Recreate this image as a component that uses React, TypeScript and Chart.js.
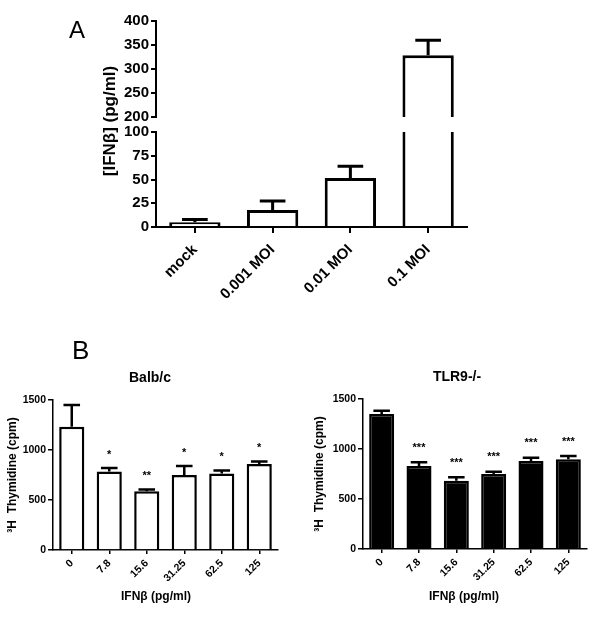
import React, { useEffect, useRef } from "react";
import { Chart, registerables } from "chart.js";

Chart.register(...registerables);

// ---------- Panel A data ----------
const moiCategories = ["mock", "0.001 MOI", "0.01 MOI", "0.1 MOI"];
const ifnValues = [5, 18, 51.5, 328.5];
const ifnErrorTops = [8, 27.5, 64, 360];
const lowTicks = [0, 25, 50, 75, 100];
const highTicks = [200, 250, 300, 350, 400];

// ---------- Panel B data ----------
const doseCategories = ["0", "7.8", "15.6", "31.25", "62.5", "125"];
const balbValues = [1233, 785, 587, 750, 765, 860];
const balbErrorTops = [1450, 820, 605, 840, 795, 885];
const balbStars = ["", "*", "**", "*", "*", "*"];
const tlr9Values = [1350, 830, 683, 750, 880, 897];
const tlr9ErrorTops = [1383, 867, 717, 773, 913, 930];
const tlr9Stars = ["", "***", "***", "***", "***", "***"];
const thymidineTicks = [0, 500, 1000, 1500];

const FONT = "Arial, 'Liberation Sans', sans-serif";

const errorBarPlugin = {
  id: "errorBars",
  afterDatasetsDraw(chart: any, _args: any, opts: any) {
    const tops: number[] | undefined = opts && opts.tops;
    if (!tops) return;
    const meta = chart.getDatasetMeta(0);
    const yScale = chart.scales[meta.yAxisID];
    const data = chart.data.datasets[0].data;
    const ctx = chart.ctx;
    const area = chart.chartArea;
    const capRatio = opts.capRatio || 0.5;
    ctx.save();
    ctx.beginPath();
    ctx.rect(area.left, area.top - 2, area.right - area.left, area.bottom - area.top + 2);
    ctx.clip();
    ctx.strokeStyle = "#000";
    ctx.lineWidth = opts.lineWidth || 2;
    ctx.lineCap = "butt";
    meta.data.forEach((bar: any, i: number) => {
      const raw = data[i];
      const top = tops[i];
      if (raw == null || top == null) return;
      const { x, width } = bar.getProps(["x", "width"], true);
      const yTop = yScale.getPixelForValue(top);
      const yBar = yScale.getPixelForValue(raw);
      const half = (width * capRatio) / 2;
      ctx.beginPath();
      ctx.moveTo(x, yBar);
      ctx.lineTo(x, yTop);
      ctx.moveTo(x - half, yTop);
      ctx.lineTo(x + half, yTop);
      ctx.stroke();
    });
    ctx.restore();
    const stars: string[] | undefined = opts.stars;
    if (stars) {
      ctx.save();
      ctx.fillStyle = "#000";
      ctx.font = `bold 11px ${FONT}`;
      ctx.textAlign = "center";
      ctx.textBaseline = "alphabetic";
      meta.data.forEach((bar: any, i: number) => {
        if (!stars[i]) return;
        const { x } = bar.getProps(["x"], true);
        const y = yScale.getPixelForValue(tops[i]) - (opts.starGap || 10);
        ctx.fillText(stars[i], x, y);
      });
      ctx.restore();
    }
  },
};

// draws chart title and x-axis title at fixed spots of the canvas
const panelTextPlugin = {
  id: "panelText",
  afterDraw(chart: any, _args: any, opts: any) {
    const items = (opts && opts.items) || [];
    const ctx = chart.ctx;
    ctx.save();
    ctx.fillStyle = "#000";
    ctx.textAlign = "center";
    ctx.textBaseline = "middle";
    for (const it of items) {
      ctx.font = it.font;
      ctx.fillText(it.text, it.x, it.y);
    }
    ctx.restore();
  },
};

const tickFontA = { family: FONT, weight: "bold" as const, size: 15 };
const tickFontB = { family: FONT, weight: "bold" as const, size: 10.5 };
const plainLabel = (v: any) => String(v);

function fixedTicks(list: number[]) {
  return (scale: any) => {
    scale.ticks = list.map((value) => ({ value }));
  };
}

function yAxisA(min: number, max: number, ticks: number[]) {
  return {
    min,
    max,
    afterBuildTicks: fixedTicks(ticks),
    afterFit: (s: any) => {
      s.width = 50;
      s.paddingTop = 0;
      s.paddingBottom = 0;
    },
    grid: { display: true, drawOnChartArea: false, drawTicks: true, tickLength: 5, color: "#000", lineWidth: 2 },
    border: { display: true, color: "#000", width: 2 },
    ticks: { font: tickFontA, color: "#000", padding: 2, callback: plainLabel },
  };
}

function makeAUpper(canvas: HTMLCanvasElement) {
  return new Chart(canvas, {
    type: "bar",
    data: {
      labels: moiCategories,
      datasets: [
        {
          data: ifnValues.map((v) => (v > highTicks[0] ? v : null)),
          backgroundColor: "#fff",
          borderColor: "#000",
          borderWidth: 3,
          barPercentage: 0.66,
          categoryPercentage: 1,
          clip: 0,
        } as any,
      ],
    },
    options: {
      responsive: false,
      animation: false,
      layout: { padding: { left: 106, right: 133, top: 21, bottom: 8 } },
      plugins: {
        legend: { display: false },
        tooltip: { enabled: false },
        errorBars: { tops: ifnErrorTops, lineWidth: 3, capRatio: 0.5 },
      } as any,
      scales: {
        x: { display: false, offset: true },
        y: yAxisA(highTicks[0], highTicks[highTicks.length - 1], highTicks) as any,
      },
    },
    plugins: [errorBarPlugin],
  });
}

function makeALower(canvas: HTMLCanvasElement) {
  return new Chart(canvas, {
    type: "bar",
    data: {
      labels: moiCategories,
      datasets: [
        {
          data: ifnValues,
          backgroundColor: "#fff",
          borderColor: "#000",
          borderWidth: 3,
          barPercentage: 0.66,
          categoryPercentage: 1,
          clip: 0,
        } as any,
      ],
    },
    options: {
      responsive: false,
      animation: false,
      layout: { padding: { left: 106, right: 133, top: 12, bottom: 0 } },
      plugins: {
        legend: { display: false },
        tooltip: { enabled: false },
        errorBars: { tops: ifnErrorTops, lineWidth: 3, capRatio: 0.5 },
      } as any,
      scales: {
        x: {
          offset: true,
          grid: { display: true, offset: false, drawOnChartArea: false, tickLength: 6, color: "#000", lineWidth: 2 },
          border: { display: true, color: "#000", width: 2 },
          ticks: { font: tickFontA, color: "#000", maxRotation: 45, minRotation: 45, padding: 8, autoSkip: false },
          afterFit: (s: any) => {
            s.height = 83;
            s.paddingLeft = 0;
            s.paddingRight = 0;
          },
        } as any,
        y: yAxisA(lowTicks[0], lowTicks[lowTicks.length - 1], lowTicks) as any,
      },
    },
    plugins: [errorBarPlugin],
  });
}

function makeB(
  canvas: HTMLCanvasElement,
  cfg: {
    title: string;
    titleX: number;
    titleY: number;
    xTitleX: number;
    xTitleY: number;
    values: number[];
    tops: number[];
    stars: string[];
    fill: string;
    yWidth: number;
    xHeight: number;
    padRight: number;
    padTop: number;
    yTitlePad: number;
    starGap: number;
  }
) {
  return new Chart(canvas, {
    type: "bar",
    data: {
      labels: doseCategories,
      datasets: [
        {
          data: cfg.values,
          backgroundColor: cfg.fill,
          borderColor: "#000",
          borderWidth: 2.5,
          barPercentage: 0.67,
          categoryPercentage: 1,
          clip: 0,
        } as any,
      ],
    },
    options: {
      responsive: false,
      animation: false,
      layout: { padding: { left: 0, right: cfg.padRight, top: cfg.padTop, bottom: 0 } },
      plugins: {
        legend: { display: false },
        tooltip: { enabled: false },
        title: { display: false },
        errorBars: { tops: cfg.tops, stars: cfg.stars, lineWidth: 2.5, starGap: cfg.starGap, capRatio: 0.66 },
        panelText: {
          items: [
            { text: cfg.title, x: cfg.titleX, y: cfg.titleY, font: `bold 14px ${FONT}` },
            { text: "IFNβ (pg/ml)", x: cfg.xTitleX, y: cfg.xTitleY, font: `bold 12px ${FONT}` },
          ],
        },
      } as any,
      scales: {
        x: {
          offset: true,
          grid: { display: true, offset: false, drawOnChartArea: false, tickLength: 4, color: "#000", lineWidth: 1.5 },
          border: { display: true, color: "#000", width: 1.5 },
          ticks: { font: tickFontB, color: "#000", maxRotation: 45, minRotation: 45, padding: 3, autoSkip: false },
          afterFit: (s: any) => {
            s.height = cfg.xHeight;
            s.paddingLeft = 0;
            s.paddingRight = 0;
          },
        } as any,
        y: {
          min: thymidineTicks[0],
          max: thymidineTicks[thymidineTicks.length - 1],
          afterBuildTicks: fixedTicks(thymidineTicks),
          afterFit: (s: any) => {
            s.width = cfg.yWidth;
            s.paddingTop = 0;
            s.paddingBottom = 0;
          },
          grid: { display: true, drawOnChartArea: false, drawTicks: true, tickLength: 5, color: "#000", lineWidth: 1.5 },
          border: { display: true, color: "#000", width: 1.5 },
          ticks: { font: tickFontB, color: "#000", padding: 2, callback: plainLabel },
          title: {
            display: true,
            text: "³H  Thymidine (cpm)",
            color: "#000",
            font: { family: FONT, weight: "bold", size: 12 },
            padding: { top: cfg.yTitlePad, bottom: 0 },
          },
        } as any,
      },
    },
    plugins: [errorBarPlugin, panelTextPlugin],
  });
}

export default function App() {
  const aUpper = useRef<HTMLCanvasElement>(null);
  const aLower = useRef<HTMLCanvasElement>(null);
  const bLeft = useRef<HTMLCanvasElement>(null);
  const bRight = useRef<HTMLCanvasElement>(null);

  useEffect(() => {
    const charts: Chart[] = [];
    if (aUpper.current) charts.push(makeAUpper(aUpper.current));
    if (aLower.current) charts.push(makeALower(aLower.current));
    if (bLeft.current)
      charts.push(
        makeB(bLeft.current, {
          title: "Balb/c",
          titleX: 150,
          titleY: 18,
          xTitleX: 156,
          xTitleY: 237,
          values: balbValues,
          tops: balbErrorTops,
          stars: balbStars,
          fill: "#fff",
          yWidth: 53,
          xHeight: 70,
          padRight: 22,
          padTop: 40,
          yTitlePad: 5,
          starGap: 10.5,
        })
      );
    if (bRight.current)
      charts.push(
        makeB(bRight.current, {
          title: "TLR9-/-",
          titleX: 157,
          titleY: 17,
          xTitleX: 164,
          xTitleY: 237,
          values: tlr9Values,
          tops: tlr9ErrorTops,
          stars: tlr9Stars,
          fill: "#000",
          yWidth: 63,
          xHeight: 71,
          padRight: 13,
          padTop: 39,
          yTitlePad: 12.8,
          starGap: 11.5,
        })
      );
    return () => charts.forEach((c) => c.destroy());
  }, []);

  const abs = (left: number, top: number, w: number, h: number): React.CSSProperties => ({
    position: "absolute",
    left,
    top,
    width: w,
    height: h,
  });

  return (
    <div style={{ position: "absolute", left: 0, top: 0, width: 600, height: 620, background: "#fff", overflow: "hidden" }}>
      <canvas ref={aUpper} width={600} height={125} style={abs(0, 0, 600, 125)} />
      <canvas ref={aLower} width={600} height={190} style={abs(0, 120, 600, 190)} />
      <canvas ref={bLeft} width={300} height={260} style={abs(0, 360, 300, 260)} />
      <canvas ref={bRight} width={300} height={260} style={abs(300, 360, 300, 260)} />
      <div
        style={{
          position: "absolute",
          left: 69,
          top: 18,
          font: `24px ${FONT}`,
          lineHeight: 1,
          color: "#000",
        }}
      >
        A
      </div>
      <div
        style={{
          position: "absolute",
          left: 72,
          top: 337,
          font: `26px ${FONT}`,
          lineHeight: 1,
          color: "#000",
        }}
      >
        B
      </div>
      <div
        style={{
          position: "absolute",
          left: 109,
          top: 121,
          transform: "translate(-50%, -50%) rotate(-90deg)",
          font: `bold 17px ${FONT}`,
          lineHeight: 1,
          whiteSpace: "nowrap",
          color: "#000",
        }}
      >
        [IFNβ] (pg/ml)
      </div>
    </div>
  );
}
